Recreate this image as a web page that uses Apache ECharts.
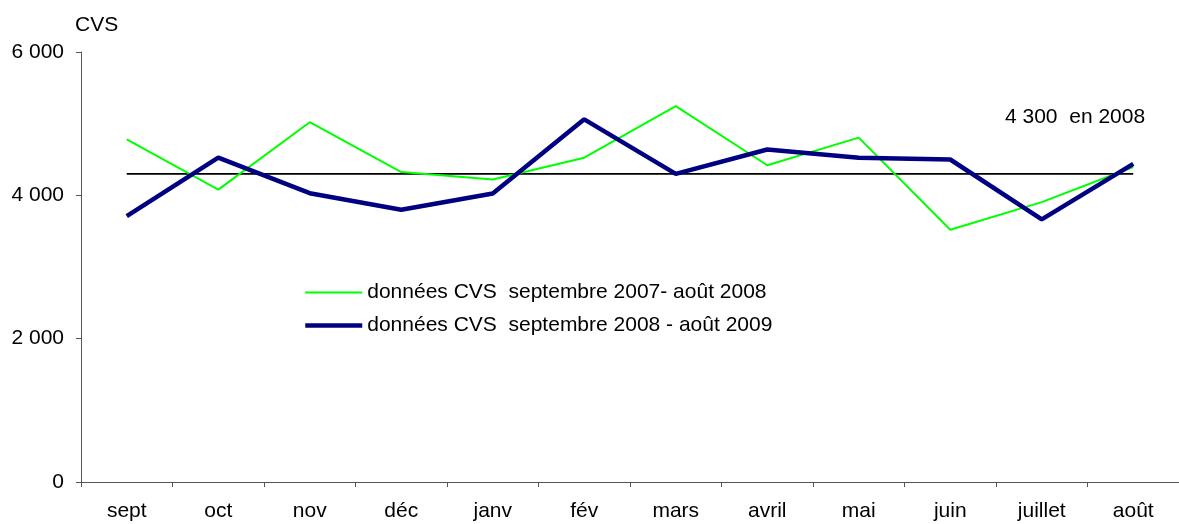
<!DOCTYPE html>
<html>
<head>
<meta charset="utf-8">
<script src="https://cdn.jsdelivr.net/npm/echarts@6/dist/echarts.min.js"></script>
<style>
  html, body { margin: 0; padding: 0; background: #fff; }
  #chart { width: 1179px; height: 524px; }
</style>
</head>
<body>
<div id="chart"></div>
<script>
// mois (septembre -> août)
const months = ['sept', 'oct', 'nov', 'déc', 'janv', 'fév', 'mars', 'avril', 'mai', 'juin', 'juillet', 'août'];
// données CVS septembre 2007 - août 2008
const cvs2007 = [4780, 4080, 5020, 4325, 4220, 4525, 5245, 4420, 4805, 3520, 3905, 4395];
// données CVS septembre 2008 - août 2009
const cvs2008 = [3710, 4525, 4030, 3800, 4025, 5060, 4300, 4640, 4525, 4500, 3665, 4440];
// moyenne 2008
const ref2008 = [4300, 4300, 4300, 4300, 4300, 4300, 4300, 4300, 4300, 4300, 4300, 4300];

const name2007 = 'données CVS  septembre 2007- août 2008';
const name2008 = 'données CVS  septembre 2008 - août 2009';

const font = 'Arial, "Liberation Sans", sans-serif';
const fmt = v => String(v).replace(/\B(?=(\d{3})+(?!\d))/g, ' ');

const myChart = echarts.init(document.getElementById('chart'));
myChart.setOption({
  animation: false,
  textStyle: { fontFamily: font, color: '#000' },
  grid: { left: 81, right: -5, top: 52, bottom: 42 },
  legend: {
    orient: 'vertical',
    left: 298,
    top: 277,
    itemWidth: 57,
    itemHeight: 21,
    itemGap: 12,
    // pas de rond sur l'icône, juste le trait
    data: [
      { name: name2007, itemStyle: { opacity: 0 }, lineStyle: { width: 2, color: '#00ff00' } },
      { name: name2008, itemStyle: { opacity: 0 }, lineStyle: { width: 4.5, color: '#000080' } }
    ],
    textStyle: { fontSize: 21, fontFamily: font, color: '#000', lineHeight: 21 }
  },
  xAxis: {
    type: 'category',
    data: months,
    axisLine: { lineStyle: { color: '#555', width: 1 } },
    axisTick: { show: true, length: 5, lineStyle: { color: '#555' } },
    axisLabel: { fontSize: 21, color: '#000', margin: 19, fontFamily: font }
  },
  yAxis: {
    type: 'value',
    min: 0,
    max: 6000,
    interval: 2000,
    name: 'CVS',
    nameLocation: 'end',
    nameGap: 16,
    nameTextStyle: { fontSize: 21, color: '#000', align: 'left', padding: [0, 0, 0, -6], fontFamily: font },
    axisLine: { show: true, lineStyle: { color: '#555', width: 1 } },
    axisTick: { show: true, length: 5, lineStyle: { color: '#555' } },
    splitLine: { show: false },
    axisLabel: { fontSize: 21, color: '#000', margin: 17, formatter: fmt, fontFamily: font }
  },
  graphic: [{
    type: 'text',
    left: 1005,
    top: 107,
    style: { text: '4 300  en 2008', fontSize: 21, fontFamily: font, fill: '#000' }
  }],
  series: [
    {
      name: 'ref',
      type: 'line',
      data: ref2008,
      symbol: 'none',
      lineStyle: { color: '#000', width: 1.6 },
      itemStyle: { color: '#000' },
      z: 1
    },
    {
      name: name2007,
      type: 'line',
      data: cvs2007,
      symbol: 'none',
      lineStyle: { color: '#00ff00', width: 2 },
      itemStyle: { color: '#00ff00' },
      z: 2
    },
    {
      name: name2008,
      type: 'line',
      data: cvs2008,
      symbol: 'none',
      lineStyle: { color: '#000080', width: 4.5 },
      itemStyle: { color: '#000080' },
      z: 3
    }
  ]
});
</script>
</body>
</html>
